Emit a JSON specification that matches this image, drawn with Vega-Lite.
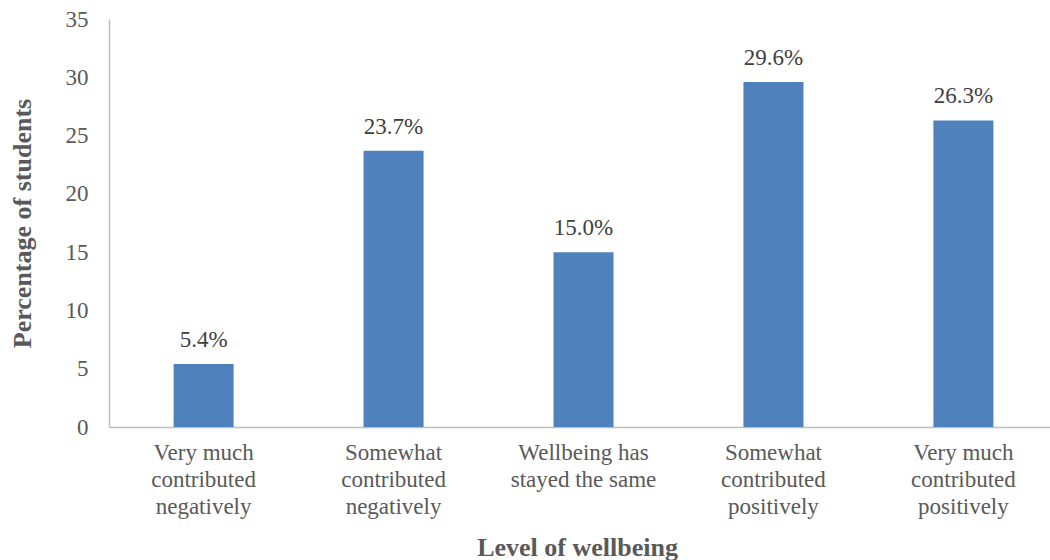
{
  "$schema": "https://vega.github.io/schema/vega-lite/v6.json",
  "autosize": "none",
  "width": 941,
  "height": 408,
  "padding": {"left": 109, "top": 19, "right": 0, "bottom": 133},
  "background": "white",
  "data": {
    "values": [
      {"level": "Very much contributed negatively", "pct": 5.4},
      {"level": "Somewhat contributed negatively", "pct": 23.7},
      {"level": "Wellbeing has stayed the same", "pct": 15.0},
      {"level": "Somewhat contributed positively", "pct": 29.6},
      {"level": "Very much contributed positively", "pct": 26.3}
    ]
  },
  "config": {
    "view": {"stroke": null},
    "font": "Times New Roman, Liberation Serif, serif"
  },
  "encoding": {
    "x": {
      "field": "level",
      "type": "nominal",
      "sort": null,
      "scale": {"range": [0, 949], "paddingInner": 0.684, "paddingOuter": 0.34},
      "axis": {
        "title": "Level of wellbeing",
        "titleFont": "Times New Roman, Liberation Serif, serif",
        "titleFontSize": 26,
        "titleFontWeight": "bold",
        "titleColor": "#595959",
        "titleX": 468,
        "titleY": 128,
        "titleBaseline": "alphabetic",
        "titleAnchor": "middle",
        "labelAngle": 0,
        "labelFont": "Times New Roman, Liberation Serif, serif",
        "labelFontSize": 23,
        "labelColor": "#595959",
        "labelLineHeight": 27,
        "labelPadding": 14,
        "labelBaseline": "top",
        "ticks": false,
        "domainColor": "#BFBFBF",
        "domainWidth": 1.5,
        "labelExpr": "datum.value == 'Very much contributed negatively' ? ['Very much', 'contributed', 'negatively'] : datum.value == 'Somewhat contributed negatively' ? ['Somewhat', 'contributed', 'negatively'] : datum.value == 'Wellbeing has stayed the same' ? ['Wellbeing has', 'stayed the same'] : datum.value == 'Somewhat contributed positively' ? ['Somewhat', 'contributed', 'positively'] : ['Very much', 'contributed', 'positively']"
      }
    },
    "y": {
      "field": "pct",
      "type": "quantitative",
      "scale": {"domain": [0, 35], "nice": false},
      "axis": {
        "title": "Percentage of students",
        "titleFont": "Times New Roman, Liberation Serif, serif",
        "titleFontSize": 26,
        "titleFontWeight": "bold",
        "titleColor": "#595959",
        "titleX": -87,
        "titleBaseline": "middle",
        "values": [0, 5, 10, 15, 20, 25, 30, 35],
        "labelFont": "Times New Roman, Liberation Serif, serif",
        "labelFontSize": 23,
        "labelColor": "#595959",
        "labelPadding": 21,
        "ticks": false,
        "grid": false,
        "domainColor": "#BFBFBF",
        "domainWidth": 1.5
      }
    }
  },
  "layer": [
    {"mark": {"type": "bar", "color": "#4F81BD"}},
    {
      "mark": {
        "type": "text",
        "baseline": "middle",
        "dy": -24,
        "font": "Times New Roman, Liberation Serif, serif",
        "fontSize": 23,
        "color": "#404040",
        "text": {"expr": "format(datum.pct, '.1f') + '%'"}
      }
    }
  ]
}
